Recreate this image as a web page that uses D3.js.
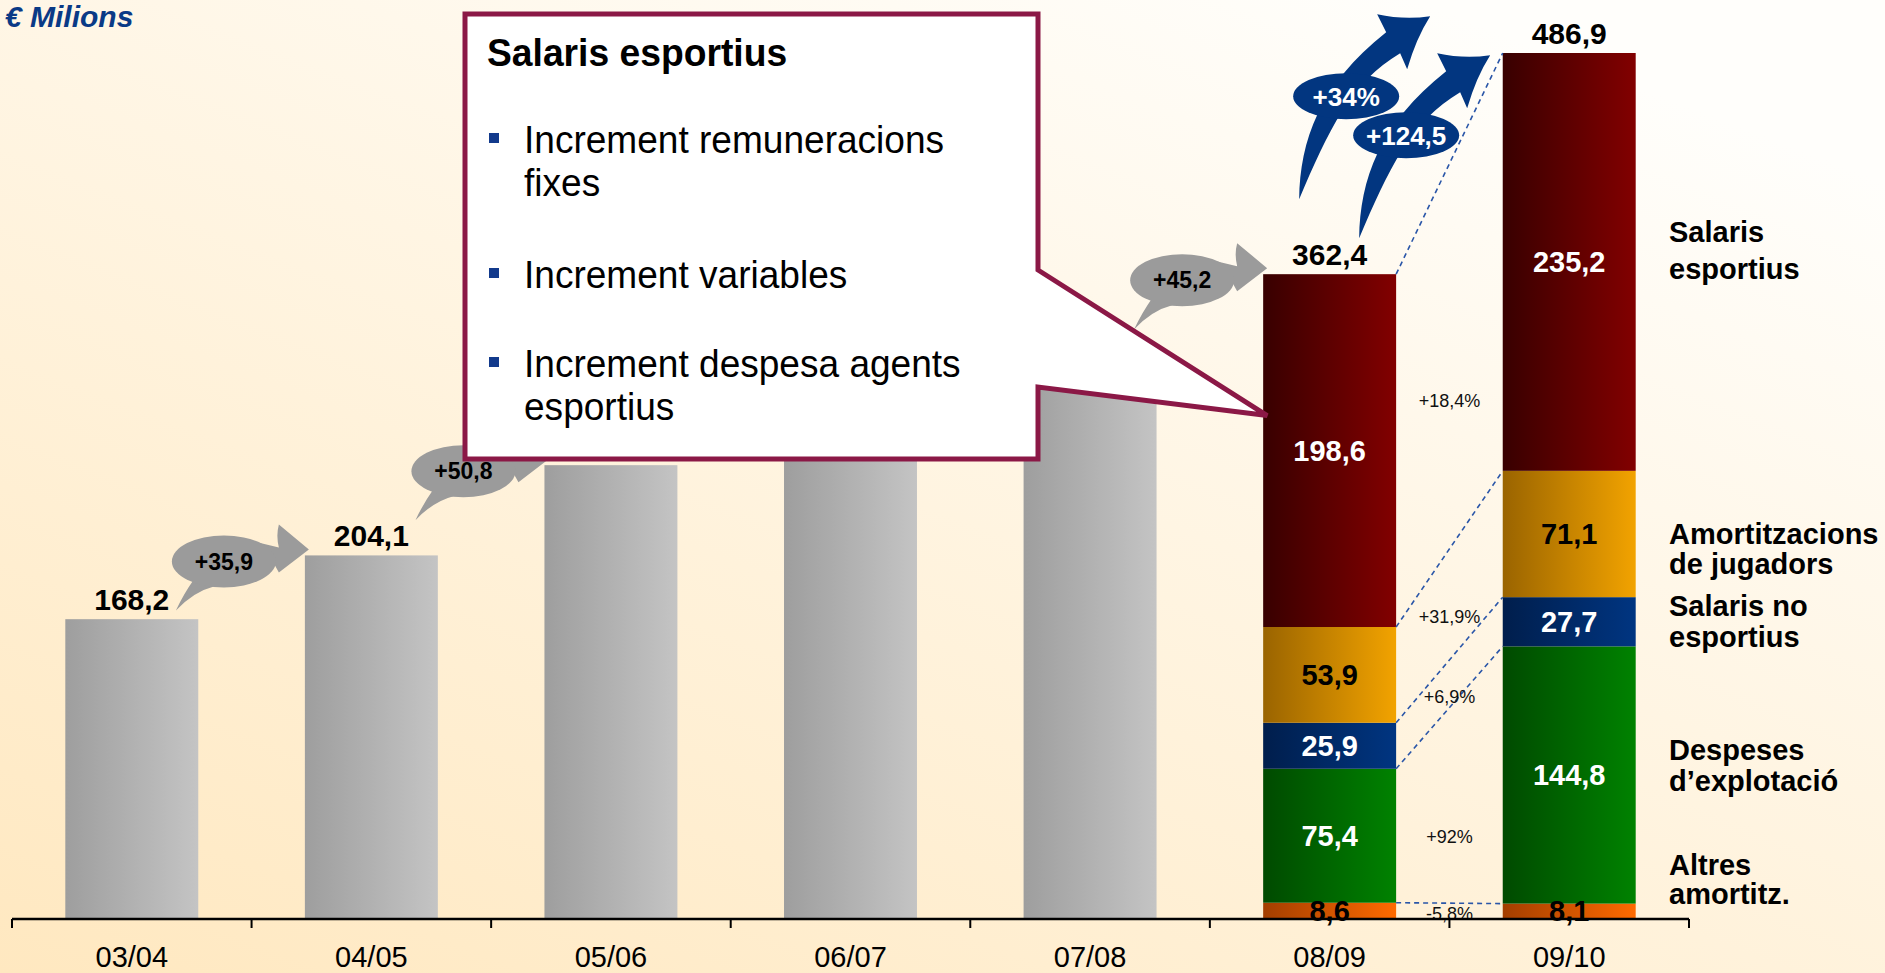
<!DOCTYPE html>
<html>
<head>
<meta charset="utf-8">
<script src="https://cdn.jsdelivr.net/npm/d3@7"></script>
<style>
body { margin: 0; overflow: hidden; background: #fff; }
text { font-family: "Liberation Sans", Arial, sans-serif; }
</style>
</head>
<body>
<div id="chart"></div>
<script>
//data
var seasons = ['03/04', '04/05', '05/06', '06/07', '07/08', '08/09', '09/10'];
var totals = [168.2, 204.1, 254.9, 290.0, 317.2, 362.4, 486.9];
var stepTargets = ['04/05', '05/06', '08/09'];
var stepValues = [35.9, 50.8, 45.2];
var splitSeasons = ['08/09', '09/10'];
var categories = ['Altres amortitz.', 'Despeses d’explotació', 'Salaris no esportius', 'Amortitzacions de jugadors', 'Salaris esportius'];
var legendLines = [['Altres', 'amortitz.'], ['Despeses', 'd’explotació'], ['Salaris no', 'esportius'], ['Amortitzacions', 'de jugadors'], ['Salaris', 'esportius']];
var split0809 = [8.6, 75.4, 25.9, 53.9, 198.6];
var split0910 = [8.1, 144.8, 27.7, 71.1, 235.2];
var changes = ['-5,8%', '+92%', '+6,9%', '+31,9%', '+18,4%'];
var growthLabels = ['+34%', '+124,5'];
var calloutTitle = 'Salaris esportius';
var calloutBullets = [['Increment remuneracions', 'fixes'], ['Increment variables'], ['Increment despesa agents', 'esportius']];
//data

//styles
var catColours = [['#a33e00', '#ff6a00'], ['#004a00', '#008200'], ['#001e4c', '#003581'], ['#9a6400', '#f2a300'], ['#380000', '#820000']];
var labelInk = ['#000', '#fff', '#fff', '#000', '#fff'];
var changeDy = [3, 1, -49, -58, -50];
var legendDy = [-36, -15, -6, 10, -20];
var legendGap = [29, 31, 31, 30, 37];
//styles

var W = 1885, H = 973;

var svg = d3.select('#chart').append('svg')
    .attr('width', W)
    .attr('height', H);

var defs = svg.append('defs');

function hGrad(id, c0, c1) {
    var g = defs.append('linearGradient').attr('id', id)
        .attr('x1', 0).attr('y1', 0).attr('x2', 1).attr('y2', 0);
    g.append('stop').attr('offset', '0%').attr('stop-color', c0);
    g.append('stop').attr('offset', '100%').attr('stop-color', c1);
}

var bg = defs.append('linearGradient').attr('id', 'bg')
    .attr('x1', 0).attr('y1', 1).attr('x2', 0.75).attr('y2', 0);
bg.append('stop').attr('offset', '0%').attr('stop-color', '#ffe8c0');
bg.append('stop').attr('offset', '100%').attr('stop-color', '#fffefb');

hGrad('grey', '#9e9e9e', '#c4c4c4');
catColours.forEach(function (c, i) { hGrad('cat' + i, c[0], c[1]); });

svg.append('rect').attr('width', W).attr('height', H).attr('fill', 'url(#bg)');

// layers in drawing order
var barLayer = svg.append('g');
var labelLayer = svg.append('g');
var bubbleLayer = svg.append('g');
var arrowLayer = svg.append('g');
var calloutLayer = svg.append('g');
var legendLayer = svg.append('g');
var axisLayer = svg.append('g');

//scales
var x = d3.scaleBand()
    .domain(seasons)
    .range([12, 1689])
    .paddingInner(0.445)
    .paddingOuter(0.2225);

var y = d3.scaleLinear()
    .domain([0, 486.9])
    .range([918, 53]);

var ca = d3.formatLocale({decimal: ',', thousands: '.', grouping: [3], currency: ['', '€']});
var fmt = ca.format('.1f');
var fmtPlus = ca.format('+.1f');
//scales

var bw = x.bandwidth();

//callout shape (drawn on top, built first so hidden labels can be skipped)
var bx = 465, by = 14, bW = 573, bH = 445;
var tipX = x('08/09') + 4, tipY = y(totals[5] - 198.6 / 2) - 35;
var callout = calloutLayer.append('path')
    .attr('d', 'M' + bx + ',' + by + ' H' + (bx + bW) + ' V270 L' + tipX + ',' + tipY +
        ' L' + (bx + bW) + ',387 V' + (by + bH) + ' H' + bx + ' Z')
    .attr('fill', '#fff')
    .attr('stroke', '#8b1846')
    .attr('stroke-width', 5)
    .attr('stroke-linejoin', 'miter');

function underCallout(px, py) {
    var p = svg.node().createSVGPoint();
    p.x = px; p.y = py;
    return callout.node().isPointInFill(p);
}

//grey bars
var plain = seasons.filter(function (s) { return splitSeasons.indexOf(s) < 0; });

barLayer.selectAll('.grey_bar')
    .data(plain)
    .enter().append('rect')
    .attr('class', 'grey_bar')
    .attr('x', function (d) { return x(d); })
    .attr('y', function (d) { return y(totals[seasons.indexOf(d)]); })
    .attr('width', bw)
    .attr('height', function (d) { return y(0) - y(totals[seasons.indexOf(d)]); })
    .attr('fill', 'url(#grey)');
//grey bars

//stacked bars
var rows = splitSeasons.map(function (s, i) {
    var r = {season: s};
    var vals = i == 0 ? split0809 : split0910;
    categories.forEach(function (c, j) { r[c] = vals[j]; });
    return r;
});

var series = d3.stack().keys(categories)(rows);

var layers = barLayer.selectAll('.layer')
    .data(series)
    .enter().append('g')
    .attr('class', 'layer')
    .attr('fill', function (d, i) { return 'url(#cat' + i + ')'; });

layers.selectAll('rect')
    .data(function (d) { return d; })
    .enter().append('rect')
    .attr('x', function (d) { return x(d.data.season); })
    .attr('y', function (d) { return y(d[1]); })
    .attr('width', bw)
    .attr('height', function (d) { return y(d[0]) - y(d[1]); });
//stacked bars

//dashed connectors
var xa = x('08/09') + bw, xb = x('09/10');
barLayer.selectAll('.connector')
    .data(series)
    .enter().append('line')
    .attr('class', 'connector')
    .attr('x1', xa)
    .attr('y1', function (d) { return y(d[0][1]); })
    .attr('x2', xb)
    .attr('y2', function (d) { return y(d[1][1]); })
    .attr('stroke', '#2a56a8')
    .attr('stroke-width', 1.6)
    .attr('stroke-dasharray', '5,4');
//dashed connectors

//segment labels
series.forEach(function (s, i) {
    labelLayer.selectAll('.seg_label_' + i)
        .data(s)
        .enter().append('text')
        .attr('x', function (d) { return x(d.data.season) + bw / 2; })
        .attr('y', function (d) { return y((d[0] + d[1]) / 2); })
        .attr('dy', '0.36em')
        .attr('text-anchor', 'middle')
        .style('font-size', '29px')
        .style('font-weight', 'bold')
        .attr('fill', labelInk[i])
        .text(function (d) { return fmt(d[1] - d[0]); });
});

labelLayer.selectAll('.change_label')
    .data(series)
    .enter().append('text')
    .attr('class', 'change_label')
    .attr('x', (xa + xb) / 2)
    .attr('y', function (d, i) { return y((d[0][0] + d[0][1]) / 2) + changeDy[i]; })
    .attr('dy', '0.36em')
    .attr('text-anchor', 'middle')
    .style('font-size', '18px')
    .attr('fill', '#111')
    .text(function (d, i) { return changes[i]; });
//segment labels

//total labels (the ones behind the callout are not drawn)
var shown = seasons.filter(function (d, i) {
    return !underCallout(x(d) + bw / 2, y(totals[i]) - 20);
});

labelLayer.selectAll('.total_label')
    .data(shown)
    .enter().append('text')
    .attr('class', 'total_label')
    .attr('x', function (d) { return x(d) + bw / 2; })
    .attr('y', function (d) { return y(totals[seasons.indexOf(d)]) - 9; })
    .attr('text-anchor', 'middle')
    .style('font-size', '30px')
    .style('font-weight', 'bold')
    .attr('fill', '#000')
    .text(function (d) { return fmt(totals[seasons.indexOf(d)]); });
//total labels

//grey step bubbles
var bubbles = bubbleLayer.selectAll('.bubble')
    .data(stepTargets)
    .enter().append('g')
    .attr('class', 'bubble')
    .attr('transform', function (d) {
        return 'translate(' + (x(d) - 81) + ',' + (y(totals[seasons.indexOf(d)]) + 6) + ')';
    });

bubbles.append('path')
    .attr('d', 'M30,-20 L55,-14 Q52,-26 55,-37 L85,-12 L55,11 Q50,2 50,2 L30,8 Z')
    .attr('fill', '#9b9b9b');
bubbles.append('path')
    .attr('d', 'M-30,18 Q-40,32 -48,49 Q-30,30 -10,25 Z')
    .attr('fill', '#9b9b9b');
bubbles.append('ellipse')
    .attr('rx', 52).attr('ry', 26)
    .attr('fill', '#9b9b9b');
bubbles.append('text')
    .attr('dy', '0.36em')
    .attr('text-anchor', 'middle')
    .style('font-size', '23px')
    .style('font-weight', 'bold')
    .attr('fill', '#000')
    .text(function (d, i) { return fmtPlus(stepValues[i]); });
//grey step bubbles

//blue growth arrows
var ax = x('08/09') + 83, ay = y(totals[5]) - 178;
var arrows = arrowLayer.selectAll('.growth')
    .data(growthLabels)
    .enter().append('g')
    .attr('class', 'growth')
    .attr('transform', function (d, i) { return 'translate(' + (ax + i * 60) + ',' + (ay + i * 39) + ')'; });

arrows.append('path')
    .attr('d', 'M-47,103 C-46,44 -27,-11 40,-64 L31,-82 Q58,-76 84,-80 Q70,-58 61,-27 L54,-43 C5,-14 -18,34 -47,103 Z')
    .attr('fill', '#023680');
arrows.append('ellipse')
    .attr('rx', 53).attr('ry', 23)
    .attr('fill', '#023680');
arrows.append('text')
    .attr('dy', '0.36em')
    .attr('text-anchor', 'middle')
    .style('font-size', '26px')
    .style('font-weight', 'bold')
    .attr('fill', '#fff')
    .text(function (d) { return d; });
//blue growth arrows

//callout text
function condense(sel, k) {
    sel.each(function () {
        var len = this.getComputedTextLength();
        d3.select(this).attr('textLength', len * k).attr('lengthAdjust', 'spacingAndGlyphs');
    });
}

calloutLayer.append('text')
    .attr('x', 487).attr('y', 66)
    .style('font-size', '39px')
    .style('font-weight', 'bold')
    .attr('fill', '#000')
    .text(calloutTitle)
    .call(condense, 0.955);

var lineTop = [153, 288, 377];
calloutBullets.forEach(function (lines, i) {
    calloutLayer.append('rect')
        .attr('x', 489).attr('y', lineTop[i] - 20)
        .attr('width', 10).attr('height', 10)
        .attr('fill', '#123a8c');
    lines.forEach(function (t, j) {
        calloutLayer.append('text')
            .attr('x', 524).attr('y', lineTop[i] + j * 43)
            .style('font-size', '39px')
            .attr('fill', '#000')
            .text(t)
            .call(condense, 0.95);
    });
});
//callout text

//legend
var legend = legendLayer.selectAll('.legend_item')
    .data(series)
    .enter().append('text')
    .attr('class', 'legend_item')
    .attr('x', 1669)
    .attr('y', function (d, i) { return y((d[1][0] + d[1][1]) / 2) + legendDy[i]; })
    .style('font-size', '29px')
    .style('font-weight', 'bold')
    .attr('fill', '#000');

legend.selectAll('tspan')
    .data(function (d, i) { return legendLines[i].map(function (t, j) { return {t: t, j: j, i: i}; }); })
    .enter().append('tspan')
    .attr('x', 1669)
    .attr('dy', function (d) { return d.j == 0 ? 0 : legendGap[d.i]; })
    .text(function (d) { return d.t; });
//legend

//axis
var axis = axisLayer.append('g')
    .attr('transform', 'translate(0,' + (y(0) + 1) + ')')
    .call(d3.axisBottom(x).tickSize(0).tickPadding(27));
axis.select('.domain').remove();
axis.selectAll('text')
    .style('font-size', '29px')
    .style('font-family', '"Liberation Sans", Arial, sans-serif')
    .attr('fill', '#000');

var r = x.range();
axis.append('line')
    .attr('x1', r[0]).attr('x2', r[1])
    .attr('stroke', '#000').attr('stroke-width', 2.5);
axis.selectAll('.bound')
    .data(d3.range(seasons.length + 1))
    .enter().append('line')
    .attr('class', 'bound')
    .attr('x1', function (d) { return r[0] + d * x.step(); })
    .attr('x2', function (d) { return r[0] + d * x.step(); })
    .attr('y1', 0).attr('y2', 9)
    .attr('stroke', '#000').attr('stroke-width', 2);
//axis

axisLayer.append('text')
    .attr('x', 5).attr('y', 27)
    .style('font-size', '30px')
    .style('font-weight', 'bold')
    .style('font-style', 'italic')
    .attr('fill', '#0a3a86')
    .text('€ Milions');
</script>
</body>
</html>
